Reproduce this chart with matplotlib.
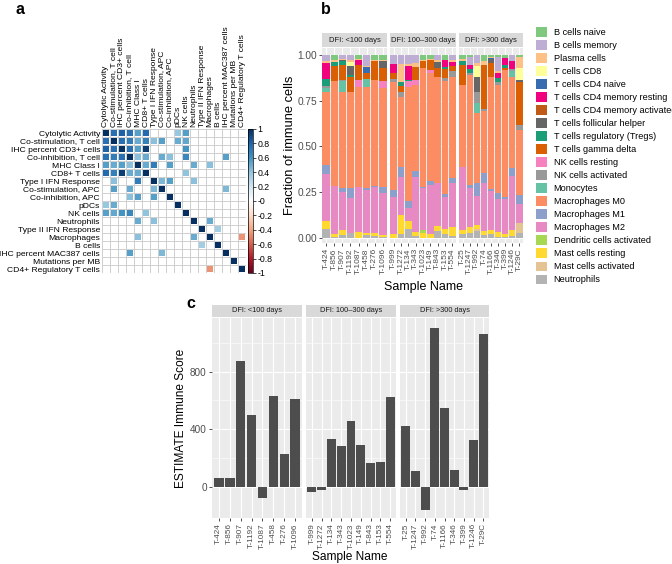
import numpy as np
import matplotlib
matplotlib.use('Agg')
import matplotlib.pyplot as plt
import matplotlib.patches as mpatches
from matplotlib.colors import LinearSegmentedColormap, Normalize
from matplotlib.cm import ScalarMappable

plt.rcParams['font.family'] = ['Liberation Sans', 'DejaVu Sans']

W, H = 672, 564

# ---------------- panel a data ----------------
corr_vars = ['Cytolytic Activity', 'Co-stimulation, T cell', 'IHC percent CD3+ cells',
             'Co-inhibition, T cell', 'MHC Class I', 'CD8+ T cells', 'Type I IFN Response',
             'Co-stimulation, APC', 'Co-inhibition, APC', 'pDCs', 'NK cells', 'Neutrophils',
             'Type II IFN Response', 'Macrophages', 'B cells', 'IHC percent MAC387 cells',
             'Mutations per MB', 'CD4+ Regulatory T cells']
# significant correlations, upper triangle (row, col, r)
corr_i = [0, 0, 0, 0, 0, 0, 0, 1, 1, 1, 1, 1, 1, 1, 1, 2, 2, 2, 2, 3, 3, 3, 3, 3, 3,
          4, 4, 4, 4, 4, 5, 6, 6, 6, 7, 11, 12, 13]
corr_j = [1, 2, 3, 4, 5, 9, 10, 2, 3, 4, 5, 6, 7, 9, 10, 3, 4, 5, 10, 4, 5, 7, 8, 10, 15,
          5, 6, 8, 11, 13, 10, 7, 8, 11, 15, 13, 14, 17]
corr_r = [0.75, 0.82, 0.75, 0.55, 0.78, 0.38, 0.55, 0.75, 0.7, 0.5, 0.68, 0.42, 0.55, 0.5, 0.52,
          0.75, 0.55, 0.95, 0.6, 0.42, 0.5, 0.5, 0.42, 0.65, 0.55,
          0.5, 0.7, 0.55, 0.5, 0.42, 0.4, 0.45, 0.55, 0.42, 0.45, 0.5, 0.35, -0.45]
corr_colors = ["#67001F", "#B2182B", "#D6604D", "#F4A582", "#FDDBC7", "#FFFFFF",
               "#D1E5F0", "#92C5DE", "#4393C3", "#2166AC", "#053061"]

# ---------------- panel b data ----------------
cell_types = ['B cells naive', 'B cells memory', 'Plasma cells', 'T cells CD8', 'T cells CD4 naive',
              'T cells CD4 memory resting', 'T cells CD4 memory activated', 'T cells follicular helper',
              'T cells regulatory (Tregs)', 'T cells gamma delta', 'NK cells resting', 'NK cells activated',
              'Monocytes', 'Macrophages M0', 'Macrophages M1', 'Macrophages M2',
              'Dendritic cells activated', 'Mast cells resting', 'Mast cells activated', 'Neutrophils']
cell_colors = ['#7FC97F', '#BEAED4', '#FDC086', '#FFFF99', '#386CB0', '#F0027F', '#BF5B17', '#666666',
               '#1B9E77', '#D95F02', '#F781BF', '#999999',
               '#66C2A5', '#FC8D62', '#8DA0CB', '#E78AC3', '#A6D854', '#FFD92F', '#E5C494', '#B3B3B3']

facet_names = ['DFI: <100 days', 'DFI: 100\u2013300 days', 'DFI: >300 days']
samples_1 = ['T-424', 'T-856', 'T-907', 'T-1192', 'T-1087', 'T-458', 'T-276', 'T-1096']
samples_2 = ['T-999', 'T-1272', 'T-134', 'T-343', 'T-1023', 'T-149', 'T-843', 'T-153', 'T-554']
samples_3 = ['T-25', 'T-1247', 'T-992', 'T-74', 'T-1166', 'T-346', 'T-399', 'T-1246', 'T-29C']

# one row per sample, columns follow cell_types
frac_1 = [
    [0, 0.035, 0.01, 0, 0, 0.085, 0, 0, 0.04, 0, 0, 0.01, 0.02, 0.40, 0.05, 0.26, 0, 0.04, 0, 0.05],
    [0.03, 0, 0.01, 0, 0, 0, 0, 0, 0.02, 0.08, 0, 0, 0, 0.575, 0, 0.265, 0, 0.015, 0, 0.005],
    [0, 0.02, 0.005, 0, 0, 0, 0, 0.01, 0.02, 0.08, 0, 0.01, 0.055, 0.53, 0.02, 0.205, 0, 0.03, 0, 0.015],
    [0, 0.03, 0.01, 0.02, 0, 0, 0, 0.05, 0.01, 0.08, 0, 0, 0, 0.53, 0.05, 0.195, 0, 0, 0, 0.025],
    [0.02, 0, 0.01, 0, 0, 0.025, 0, 0, 0, 0.08, 0.04, 0, 0, 0.545, 0, 0.25, 0, 0.03, 0, 0],
    [0, 0.06, 0.005, 0, 0.035, 0, 0, 0, 0, 0.03, 0, 0, 0.045, 0.555, 0.01, 0.235, 0, 0.01, 0, 0.015],
    [0.025, 0, 0.01, 0, 0, 0, 0, 0, 0, 0.10, 0, 0, 0, 0.58, 0.005, 0.255, 0, 0.015, 0, 0.01],
    [0.025, 0, 0.01, 0, 0, 0, 0, 0.035, 0, 0.075, 0.035, 0, 0, 0.54, 0.035, 0.23, 0, 0.01, 0, 0.005],
]
frac_2 = [
    [0, 0.05, 0, 0, 0, 0.05, 0, 0, 0, 0.03, 0, 0.02, 0, 0.59, 0.035, 0.205, 0, 0.02, 0, 0],
    [0, 0.05, 0.10, 0, 0, 0, 0, 0, 0.02, 0.03, 0, 0.03, 0, 0.38, 0.055, 0.21, 0, 0.105, 0, 0.02],
    [0, 0.05, 0.01, 0, 0, 0.075, 0, 0, 0.01, 0, 0.03, 0, 0, 0.625, 0.035, 0.075, 0, 0.04, 0, 0.05],
    [0, 0.045, 0.02, 0, 0, 0, 0, 0, 0, 0.07, 0.03, 0, 0, 0.47, 0.03, 0.305, 0, 0.02, 0, 0.01],
    [0.025, 0, 0.01, 0, 0, 0, 0, 0, 0, 0.035, 0, 0, 0, 0.65, 0.01, 0.225, 0.02, 0.025, 0, 0],
    [0.02, 0, 0.005, 0, 0, 0, 0, 0, 0.005, 0.05, 0.02, 0, 0, 0.59, 0.02, 0.27, 0, 0.02, 0, 0],
    [0, 0.03, 0.01, 0, 0, 0, 0, 0.03, 0, 0.05, 0, 0, 0, 0.58, 0, 0.235, 0, 0.025, 0, 0.04],
    [0.025, 0, 0, 0, 0, 0.04, 0, 0, 0.01, 0.05, 0, 0.02, 0, 0.615, 0.015, 0.175, 0, 0.03, 0, 0.02],
    [0, 0.03, 0.01, 0, 0, 0.02, 0, 0, 0, 0.03, 0, 0.03, 0, 0.55, 0.03, 0.24, 0, 0.05, 0, 0.01],
]
frac_3 = [
    [0.02, 0, 0.015, 0, 0, 0, 0, 0, 0.02, 0.11, 0, 0, 0, 0.45, 0, 0.34, 0, 0.025, 0, 0.02],
    [0.01, 0.045, 0, 0, 0, 0.02, 0, 0, 0.025, 0, 0, 0.01, 0, 0.60, 0.015, 0.215, 0, 0.035, 0, 0.025],
    [0, 0.045, 0.015, 0.06, 0, 0, 0, 0.08, 0, 0, 0, 0.065, 0.055, 0.38, 0.07, 0.16, 0, 0.02, 0.01, 0.04],
    [0.035, 0, 0.02, 0, 0, 0, 0, 0, 0, 0.24, 0, 0.012, 0, 0.34, 0.055, 0.26, 0, 0.022, 0, 0.016],
    [0.01, 0, 0.008, 0, 0.005, 0, 0, 0.02, 0, 0.08, 0, 0, 0, 0.61, 0.012, 0.21, 0, 0.025, 0, 0.02],
    [0.01, 0.076, 0.01, 0, 0, 0.03, 0, 0, 0.02, 0, 0, 0.02, 0, 0.59, 0.034, 0.177, 0, 0.03, 0, 0.003],
    [0.019, 0, 0, 0, 0, 0.035, 0, 0, 0.02, 0.01, 0, 0, 0, 0.69, 0.016, 0.19, 0, 0.015, 0, 0.005],
    [0, 0.035, 0, 0, 0, 0.04, 0, 0, 0, 0, 0, 0.015, 0.03, 0.50, 0.04, 0.296, 0, 0.033, 0, 0.011],
    [0.013, 0, 0.06, 0.063, 0, 0, 0, 0.01, 0, 0.237, 0, 0.027, 0, 0.355, 0.049, 0.106, 0, 0, 0.055, 0.025],
]

# ---------------- panel c data ----------------
immune_1 = [63, 59, 873, 500, -76, 630, 230, 612]
immune_2 = [-36, -20, 330, 285, 455, 288, 165, 172, 621]
immune_3 = [424, 106, -164, 1102, 544, 113, -21, 324, 1058]

samples = [samples_1, samples_2, samples_3]
fracs = [frac_1, frac_2, frac_3]
immune = [immune_1, immune_2, immune_3]

GRAY_TXT = '#4D4D4D'
PANEL_BG = '#EBEBEB'
STRIP_BG = '#D9D9D9'


def box(x0, y0, x1, y1):
    # pixel box (top-left origin) -> figure fraction rect
    return [x0 / W, 1 - y1 / H, (x1 - x0) / W, (y1 - y0) / H]


def strip(x0, x1, y0, y1, label, fs):
    sax = fig.add_axes(box(x0, y0, x1, y1))
    sax.set_facecolor(STRIP_BG)
    sax.set_xticks([]); sax.set_yticks([])
    for s in sax.spines.values():
        s.set_visible(False)
    sax.text(0.5, 0.5, label, ha='center', va='center', fontsize=fs, color='#1A1A1A',
             transform=sax.transAxes)


def gg_axes(ax):
    ax.set_facecolor(PANEL_BG)
    for s in ax.spines.values():
        s.set_visible(False)
    ax.tick_params(colors='#333333', labelcolor=GRAY_TXT, length=2.2, width=0.6, pad=1.5)
    ax.set_axisbelow(True)


fig = plt.figure(figsize=(W / 100, H / 100), dpi=100)

########## Panel a : correlation matrix ##########
n = len(corr_vars)
mat = np.full((n, n), np.nan)
np.fill_diagonal(mat, 1.0)
for i, j, r in zip(corr_i, corr_j, corr_r):
    mat[i, j] = r
    mat[j, i] = r

cmap = LinearSegmentedColormap.from_list('corr', corr_colors)
norm = Normalize(-1, 1)

axm = fig.add_axes(box(102, 129, 246, 273))
for k in range(n + 1):
    axm.axhline(k, color='#CFCFCF', lw=0.7, zorder=0)
    axm.axvline(k, color='#CFCFCF', lw=0.7, zorder=0)
for i in range(n):
    for j in range(n):
        if not np.isnan(mat[i, j]):
            axm.add_patch(mpatches.Rectangle((j + 0.08, i + 0.08), 0.84, 0.84,
                                             facecolor=cmap(norm(mat[i, j])), lw=0, zorder=2))
axm.set_xlim(0, n)
axm.set_ylim(n, 0)
axm.set_xticks(np.arange(n) + 0.5)
axm.set_xticklabels(corr_vars, rotation=90, fontsize=6.1)
axm.set_yticks(np.arange(n) + 0.5)
axm.set_yticklabels(corr_vars, fontsize=6.1)
axm.xaxis.tick_top()
axm.tick_params(length=0, pad=1.5)
for s in axm.spines.values():
    s.set_visible(False)

cax = fig.add_axes(box(248, 129, 253, 273))
cticks = np.round(np.arange(-1, 1.01, 0.2), 1)
cb = fig.colorbar(ScalarMappable(norm=norm, cmap=cmap), cax=cax, ticks=cticks)
cb.ax.set_yticklabels(['%g' % t for t in cticks])
cb.ax.tick_params(labelsize=6.3, length=2, width=0.5, pad=1)
cb.outline.set_linewidth(0.5)

fig.text(16 / W, 1 - 10 / H, 'a', fontsize=11.5, fontweight='bold', va='center')

########## Panel b : stacked cell fractions ##########
b_facets = [(322, 387), (390, 456), (459, 523)]
for f, (x0, x1) in enumerate(b_facets):
    ax = fig.add_axes(box(x0, 48, x1, 243))
    gg_axes(ax)
    data = np.array(fracs[f])
    xs = np.arange(len(samples[f]))
    bottom = np.zeros(len(xs))
    for c in range(len(cell_types) - 1, -1, -1):
        ax.bar(xs, data[:, c], bottom=bottom, width=0.88, color=cell_colors[c], lw=0, zorder=2)
        bottom += data[:, c]
    ax.set_xlim(-0.5, len(xs) - 0.5)
    ax.set_ylim(-0.028, 1.038)
    ax.set_yticks([0, 0.25, 0.5, 0.75, 1.0])
    ax.grid(True, color='white', lw=0.8)
    ax.set_xticks(xs)
    ax.set_xticklabels(samples[f], rotation=90, fontsize=6.0)
    if f == 0:
        ax.set_yticklabels(['0.00', '0.25', '0.50', '0.75', '1.00'], fontsize=7.3)
    else:
        ax.tick_params(axis='y', length=0, labelleft=False)
    strip(x0, x1, 33, 47, facet_names[f], 5.5)

fig.text(290 / W, 1 - 145 / H, 'Fraction of immune cells', rotation=90, fontsize=9.3,
         ha='center', va='center')
fig.text(423 / W, 1 - 287 / H, 'Sample Name', fontsize=9, ha='center', va='center')
fig.text(321 / W, 1 - 9 / H, 'b', fontsize=11.5, fontweight='bold', va='center')

handles = [mpatches.Patch(facecolor=c, edgecolor='none') for c in cell_colors]
fig.legend(handles, cell_types, loc='upper left', bbox_to_anchor=(536 / W, 1 - 27.5 / H),
           frameon=False, fontsize=6.6, handlelength=1.2, handleheight=1.2,
           handletextpad=0.72, labelspacing=0.35, borderpad=0, borderaxespad=0)

########## Panel c : ESTIMATE immune score ##########
c_facets = [(212, 302), (306, 396), (400, 489)]
for f, (x0, x1) in enumerate(c_facets):
    ax = fig.add_axes(box(x0, 318, x1, 518))
    gg_axes(ax)
    xs = np.arange(len(samples[f]))
    ax.bar(xs, immune[f], width=0.9, color='#4D4D4D', lw=0, zorder=2)
    ax.set_xlim(-0.6, len(xs) - 0.4)
    ax.set_ylim(-217, 1172)
    ax.set_yticks([0, 400, 800])
    ax.set_yticks([200, 600, 1000], minor=True)
    ax.grid(True, which='major', color='white', lw=0.8)
    ax.grid(True, which='minor', axis='y', color='white', lw=0.4)
    ax.tick_params(which='minor', length=0)
    ax.set_xticks(xs)
    ax.set_xticklabels(samples[f], rotation=90, fontsize=5.9)
    if f == 0:
        ax.set_yticklabels(['0', '400', '800'], fontsize=7.2)
    else:
        ax.tick_params(axis='y', which='major', length=0, labelleft=False)
    strip(x0, x1, 305, 317, facet_names[f], 5.3)

fig.text(181 / W, 1 - 418 / H, 'ESTIMATE Immune Score', rotation=90, fontsize=8.6,
         ha='center', va='center')
fig.text(350 / W, 1 - 557 / H, 'Sample Name', fontsize=8.6, ha='center', va='center')
fig.text(186 / W, 1 - 304 / H, 'c', fontsize=11.5, fontweight='bold', va='center')

fig.savefig('out.png', dpi=100)
